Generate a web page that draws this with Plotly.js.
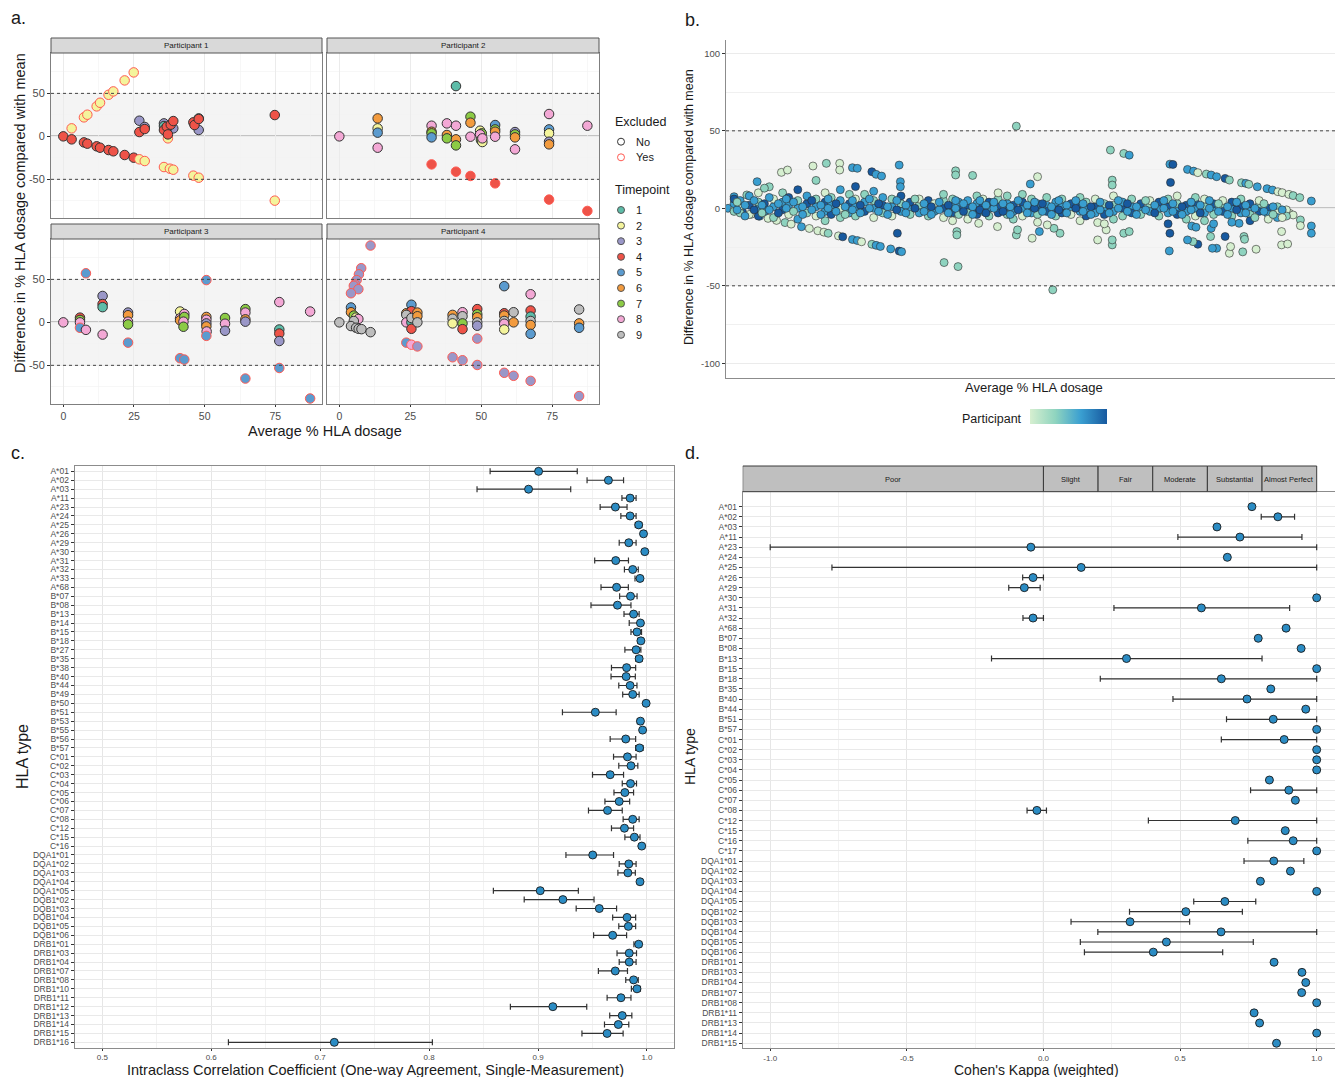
<!DOCTYPE html>
<html><head><meta charset="utf-8">
<script src="https://cdn.plot.ly/plotly-3.0.1.min.js"></script>
<style>html,body{margin:0;padding:0;background:#fff}#chart{width:1335px;height:1077px}</style>
</head><body><div id="chart"></div>
<script>
const FONT = 'Liberation Sans, Arial, Helvetica, sans-serif';
const W = 1335, H = 1077;
const px = v => v / W;
const py = v => 1 - v / H;

// ---------- Panel a: [average %, difference, timepoint, excluded(0/1)] ----------
const timepointLabels = ['1','2','3','4','5','6','7','8','9'];
const timepointColors = ['#5DBCA8','#F4F49C','#9A97C8','#EE5348','#5B9BCF','#F39B3E','#8CCB45','#F3A8D5','#BDBDBD'];
const excludedLabels = ['No','Yes'];
const excludedColors = ['#333333','#FF5A52'];
const facetLabels = ['Participant 1','Participant 2','Participant 3','Participant 4'];

const participant1 = [
  [26.9,18.2,3,0],[28.8,10.9,3,0],[35.6,15.1,3,0],[38.9,9.3,3,0],[47.9,7.4,3,0],[36.6,9,3,0],
  [47.9,20.9,1,0],[35.6,12,1,0],
  [0,0,4,0],[2.95,-3.5,4,0],[7.3,-7.0,4,0],[8.5,-8.5,4,0],[11.8,-11.6,4,0],[13.0,-13.2,4,0],
  [16.0,-15.9,4,0],[17.7,-17.4,4,0],[21.7,-21.7,4,0],[24.9,-24.8,4,0],[26.9,5.0,4,0],[28.8,8.5,4,0],
  [35.6,7.4,4,0],[36.6,11.2,4,0],[38.0,13.6,4,0],[38.9,17.8,4,0],[46.0,16.3,4,0],
  [46.4,13.2,4,0],[47.9,20.2,4,0],[74.8,24.8,4,0],
  [2.95,9.3,2,1],[7.3,22.1,2,1],[8.5,25.2,2,1],[11.8,34.9,2,1],[13.0,39.1,2,1],[16.0,48.4,2,1],
  [17.7,52.3,2,1],[21.7,65.1,2,1],[24.9,74.4,2,1],[26.9,-26.7,2,1],[28.8,-28.7,2,1],[35.6,-35.7,2,1],
  [37.7,-37.6,2,1],[38.9,-38.8,2,1],[46.0,-45.7,2,1],[47.9,-48.1,2,1],[74.8,-74.8,2,1],[37.0,-2.3,2,1],
  [37.0,2.3,4,0]
];
const participant2 = [
  [0,0,8,0],
  [13.5,20.9,6,0],[13.5,9.3,2,0],[13.5,4.3,5,0],[13.5,-13.2,8,0],
  [32.5,12.4,8,0],[32.5,5.4,6,0],[32.5,3.5,7,0],[32.5,-1.2,5,0],[32.5,-32.6,4,1],
  [37.9,15.1,8,0],[37.9,1.6,6,0],[37.9,-2.3,7,0],
  [41.1,12.4,8,0],[41.1,-3.5,6,0],[41.1,-10.5,7,0],[41.1,58.5,1,0],[41.1,-41.1,4,1],
  [46.2,22.9,7,0],[46.2,15.9,6,0],[46.2,-0.4,8,0],[46.2,-46.1,4,1],
  [49.6,6.6,2,0],[50.2,3.5,7,0],[49.6,2.3,8,0],[49.9,-4.3,7,0],[50.4,-6.6,2,0],[50.4,-2.3,8,0],
  [54.9,13.2,5,0],[54.9,8.1,7,0],[54.9,5.4,6,0],[54.9,-0.4,8,0],[54.9,-54.7,4,1],
  [61.9,5.0,3,0],[61.9,2.3,7,0],[61.9,-1.2,6,0],[61.9,-15.1,8,0],
  [73.9,26.0,8,0],[73.9,8.1,5,0],[73.9,3.5,2,0],[73.9,-6.2,3,0],[73.9,-9.3,6,0],[73.9,-73.6,4,1],
  [87.4,12.4,8,0],[87.4,-86.8,4,1]
];
const participant3 = [
  [0,0,8,0],
  [5.9,5.5,4,0],[5.9,2.8,7,0],[5.9,0,8,0],[5.9,-6.3,5,1],
  [8.0,57.1,5,1],[8.0,-8.7,8,0],
  [13.9,30.7,3,0],[13.9,21.3,4,0],[13.9,17.7,1,0],[13.9,-14.2,8,0],
  [22.9,11.4,3,0],[22.9,8.3,6,0],[22.9,0.8,8,0],[22.9,-2.4,7,0],[22.9,-23.6,5,1],
  [41.3,12.6,2,0],[41.3,4.7,8,0],[41.3,2.4,6,0],[42.8,9.8,8,0],[42.8,6.3,7,0],[42.5,0.8,8,0],[42.5,-5.1,7,0],
  [41.3,-41.7,5,1],[42.8,-43.3,5,1],
  [50.6,6.3,6,0],[50.6,3.1,8,0],[50.6,-1.2,3,0],[50.6,-4.7,6,0],[50.7,-10.6,8,0],[50.6,49.2,5,1],[50.6,-15.7,5,1],
  [57.2,5.1,7,0],[57.2,-1.6,8,0],[57.2,-9.8,3,0],
  [64.4,15.4,7,0],[64.4,11.4,8,0],[64.4,3.5,6,0],[64.4,0.8,3,0],[64.4,-65.4,5,1],
  [76.4,23.6,8,0],[76.4,-8.3,1,0],[76.4,-13.0,4,0],[76.4,-21.7,3,0],[76.4,-53.1,5,1],
  [87.3,12.6,8,0],[87.3,-88.6,5,1]
];
const participant4 = [
  [0,0,9,0],
  [11.0,89.4,3,1],[7.7,63.0,3,1],[6.9,55.9,3,1],[6.1,49.2,3,1],[5.5,44.1,3,1],[5.1,42.5,3,1],[6.7,38.6,3,1],[4.1,33.9,3,1],
  [4.1,17.3,5,0],[4.1,11.8,6,0],[5.1,7.9,7,0],[5.9,5.5,2,0],[6.7,3.9,8,0],[5.1,1.6,9,0],[4.1,-4.3,9,0],
  [5.9,-6.3,9,0],[6.8,-7.5,9,0],[7.8,-7.9,9,0],[11.0,-11.4,9,0],
  [25.4,20.5,5,0],[23.6,10.6,6,0],[25.4,13,4,0],[23.6,8.7,9,0],[23.6,0,8,0],[25.4,0,1,0],[25.4,5.1,9,0],
  [25.4,-7.5,4,0],[27.5,11.4,6,0],[27.5,7.1,6,0],[27.5,0,9,0],
  [23.6,-23.6,5,1],[25.4,-26.0,8,1],[27.5,-28.0,3,1],
  [39.9,8.7,6,0],[39.9,4.3,9,0],[39.9,-1.2,2,0],[43.4,11.8,8,0],[43.4,7.1,9,0],[43.4,-1.2,7,0],[43.4,-7.9,4,0],
  [48.6,15.4,4,0],[48.6,9.4,7,0],[48.6,5.9,6,0],[48.6,0,9,0],[48.6,-3.9,3,0],
  [39.9,-40.6,3,1],[43.4,-44.1,3,1],[48.6,-49.6,3,1],[48.6,-18.9,3,1],
  [58.1,42.1,5,0],[58.1,10.6,4,0],[58.1,7.9,6,0],[58.1,1.6,9,0],[58.1,-1.6,8,0],[58.1,-8.3,2,0],
  [61.4,11.8,9,0],[61.4,0,6,0],
  [67.4,32.7,8,0],[67.4,13.8,4,0],[67.4,6.7,1,0],[67.4,1.6,9,0],[67.4,-3.1,6,0],[67.4,-13.4,5,0],
  [58.1,-58.7,3,1],[61.4,-62.2,3,1],[67.4,-68.1,3,1],[84.5,-85.8,3,1],
  [84.5,15.0,9,0],[84.5,-1.2,6,0],[84.5,-6.3,5,0]
];

// ---------- Panel b: [average %, difference, participant] ----------
const bPoints = [
  [0,0,3],[1.0,-1.1,1],[2.4,-2.5,4],[3.8,-3.9,1],[5.2,-5.1,3],[6.6,-6.5,1],[8.0,-7.8,1],[9.4,-9.2,2],[10.4,-10.2,1],
  [12.1,-11.9,3],[13.4,-13.0,1],[14.8,-14.5,1],[15.8,-15.4,1],[16.5,-16.1,2],[18.2,-17.8,1],[18.9,-18.4,4],
  [20.5,-20.1,3],[21.3,-20.8,3],[22.0,-21.6,1],[23.7,-23.2,2],[24.4,-23.9,3],[25.1,-24.6,3],[26.8,-26.2,3],[28.2,-27.6,4],[28.6,-28.0,3],
  [72.8,28.5,3],[73.3,28.3,4],[75.7,25.1,3],[76.7,24.0,3],[77.4,23.0,1],[78.8,22.1,2],[79.6,21.5,3],[80.5,20.4,3],
  [81.9,19.3,4],[82.6,18.2,2],[84.6,16.5,2],[85.3,16.1,3],[85.8,15.5,2],[87.2,13.9,3],[88.8,12.7,3],[89.7,11.8,3],
  [90.6,10.7,1],[91.3,10.1,1],[92.4,9.0,1],[93.1,8.2,2],[94.2,6.9,2],[96.1,4.7,3],
  [47.5,53.0,2],[53.5,-52.6,2],[63.0,37.6,2],[65.2,35.4,2],[66.1,34.3,3],[35.6,-35.0,2],[37.9,-37.6,2],
  [8.8,23.2,1],[9.8,24.7,1],[14.0,27.3,1],[16.2,29.0,2],[18.4,29.0,1],[18.4,24.7,1],[20.5,26.2,3],[21.3,25.8,3],
  [23.7,23.6,4],[24.4,21.9,3],[25.3,20.8,3],[28.2,27.9,3],[28.4,17.2,3],[28.4,13.9,3],[27.9,-16.1,4],
  [37.5,24.2,2],[37.5,21.5,2],[40.3,21.2,2],[51.0,20.4,1],[49.8,15.7,3],[63.3,18.2,2],[63.3,15.0,2],
  [72.9,16.7,4],[72.8,-16.1,4],[72.7,-27.5,3],
  [96.1,-11.4,3],[96.1,-16.1,3],[94.3,-7.5,2],[94.3,-11.2,1],[92.5,-3.2,1],[93.1,-4.3,1],[91.2,-15.0,1],
  [91.2,-23.6,1],[92.2,-23.0,1],[87.0,-26.4,1],[82.6,-29.0,1],[82.8,-24.7,1],[84.8,-28.1,2],[80.5,-25.8,3],
  [79.8,-25.8,3],[77.4,-23.2,4],[76.6,-21.5,2],[75.7,-20.4,3],[81.9,-18.2,4],[84.2,-9.7,3],[85.0,-18.2,2],
  [85.1,-20.0,2],[79.5,-18.2,2],[79.6,-12.9,3],[76.4,-11.4,3],[77.1,-12.2,3],
  [60.9,-20.4,1],[63.3,-23.6,2],[63.3,-20.4,2],[65.2,-16.1,2],[66.1,-15.0,2],[62.3,-13.9,1],[60.9,-9.2,1],
  [54.7,-16.1,2],[53.7,-12.9,2],[52.6,-10.7,1],[50.1,-19.3,1],[51.3,-15.0,3],[47.5,-17.2,2],[47.7,-13.9,2],
  [44.4,-11.8,1],[41.3,-9.7,1],[37.7,-15.0,2],[37.7,-17.2,2],
  [1.0,7.5,3],[3.1,8.6,2],[4.8,17.2,3],[6.8,13.9,2],
  [1,3,3],[1,-2,2],[1,6,4],[2,1,1],[2,5,3],[2,-3,2],[3.5,8,3],[3.5,2,4],[3.5,-4,1],
  [5,0,3],[5,4,2],[5,-5,4],[5,10,1],[6,3,4],[6,-2,3],[6,13,2],[7.5,1,3],[7.5,6,1],[7.5,-6,2],
  [9,-1,4],[9,4,3],[9,10,2],[10,2,3],[10,7,4],[10,-4,1],[11.5,0,3],[11.5,5,2],[11.5,-7,3],[11.5,12,4],
  [13,3,4],[13,-3,2],[13,8,3],[14.5,1,3],[14.5,6,2],[14.5,-5,1],[14.5,18,2],
  [16,4,4],[16,-2,3],[16,10,1],[16,-8,2],[17,2,3],[17,7,2],[17,-4,4],
  [18.5,0,1],[18.5,5,3],[18.5,-6,2],[18.5,12,3],[20,3,4],[20,-3,3],[20,9,2],
  [21,1,3],[21,6,1],[21,-5,2],[21,14,4],[22.5,4,3],[22.5,-2,4],[22.5,9,2],
  [24,0,3],[24,5,2],[24,-6,1],[24,11,3],[25.5,2,4],[25.5,-3,2],[25.5,7,3],
  [27,1,3],[27,-5,1],[27,6,2],[28.5,3,2],[28.5,-2,3],[28.5,8,4],[30,0,3],[30,4,4],[30,-4,2],
  [31.5,2,2],[31.5,-3,3],[31.5,6,1],[33,1,3],[33,-5,2],[33,5,4],[34,3,1],[34,-2,3],
  [35.5,0,4],[35.5,5,2],[35.5,-6,1],[35.5,9,2],[37,2,3],[37,-3,4],[37,6,2],[37,-8,1],
  [38,0,4],[38,4,3],[38,-4,2],[39.5,1,4],[39.5,5,3],[39.5,-3,2],[39.5,-7,1],
  [41,0,4],[41,3,3],[41,-4,4],[41,8,2],[42,2,4],[42,-2,3],[42,6,1],[43,0,3],[43,4,4],[43,-5,2],
  [44.5,1,4],[44.5,-3,4],[44.5,6,2],[44.5,10,1],[46,0,4],[46,3,3],[46,-4,2],[46,8,2],
  [47,2,4],[47,-2,3],[47,-7,2],[48.5,0,3],[48.5,4,4],[48.5,-5,1],[48.5,9,2],
  [50,1,4],[50,-3,3],[50,6,2],[51,0,4],[51,3,3],[51,-4,2],[51,-9,1],[52.5,2,3],[52.5,-2,4],[52.5,7,2],
  [54,0,4],[54,4,3],[54,-5,2],[55,1,3],[55,-3,4],[55,6,2],[56.5,0,3],[56.5,3,4],[56.5,-4,1],
  [58,2,4],[58,-2,3],[58,7,2],[58,-8,1],[59,0,3],[59,4,2],[59,-5,4],[60.5,1,4],[60.5,-3,3],[60.5,6,1],
  [62,0,3],[62,3,2],[62,-4,4],[62,-10,1],[63.5,2,2],[63.5,-2,3],[63.5,8,1],[63.5,-7,2],
  [65,0,4],[65,4,3],[65,-5,2],[66.5,1,3],[66.5,-3,4],[66.5,6,2],[68,0,3],[68,3,4],[68,-4,2],
  [69.5,2,2],[69.5,-2,3],[69.5,5,1],[71,0,3],[71,4,4],[71,-5,2],[72.5,1,4],[72.5,-3,3],[72.5,6,2],[72.5,-10,4],
  [74,0,3],[74,3,2],[74,-4,4],[74,8,1],[75.5,2,4],[75.5,-2,3],[75.5,-7,2],[77,0,3],[77,4,4],[77,-5,1],[77,7,2],
  [78.5,1,2],[78.5,-3,3],[78.5,6,1],[78.5,-8,2],[80,0,3],[80,3,4],[80,-4,2],[80,-10,3],
  [81.5,2,2],[81.5,-2,4],[81.5,5,1],[83,0,3],[83,4,4],[83,-5,2],[83,-9,3],[84.5,1,4],[84.5,-3,3],[84.5,6,2],
  [86,0,3],[86,3,4],[86,-4,2],[86,-8,4],[87.5,2,2],[87.5,-2,4],[87.5,5,1],[89,0,4],[89,-4,3],[89,-7,1],
  [90.5,1,2],[90.5,-3,1],[90.5,-6,3],[92,-1,1],[92,-5,2],
  [1.5,-1,3],[1.5,4,2],[2.8,2,3],[2.8,-5,3],[4.3,-1,4],[4.3,5,3],[5.6,2,3],[5.6,-3,2],[6.8,-1,3],[6.8,7,3],
  [8.3,3,3],[8.3,-3,4],[9.6,0,3],[9.6,6,3],[10.8,-2,2],[10.8,4,3],[12.3,1,3],[12.3,-4,3],[13.8,-1,3],[13.8,5,4],
  [15.3,2,3],[15.3,-4,3],[16.5,0,3],[16.5,6,3],[17.8,-2,3],[17.8,3,4],[19.3,1,3],[19.3,-4,2],[20.5,-1,3],[20.5,5,3],
  [21.8,2,4],[21.8,-3,3],[23.3,0,3],[23.3,6,3],[24.8,-2,3],[24.8,3,4],[26.3,1,3],[26.3,-4,3],[27.8,-1,4],[27.8,5,3],
  [29.3,2,3],[29.3,-3,3],[30.8,0,4],[30.8,6,2],[32.3,-2,3],[32.3,3,3],[33.5,1,4],[33.5,-4,3],[34.8,-1,3],[34.8,4,3],
  [36.3,2,4],[36.3,-3,3],[37.5,0,3],[37.5,5,3],[38.8,-2,4],[38.8,3,3],[40.3,1,3],[40.3,-4,3],[41.5,-1,4],[41.5,5,3],
  [42.5,2,3],[42.5,-3,4],[43.8,0,3],[43.8,4,3],[45.3,-2,4],[45.3,3,3],[46.5,1,3],[46.5,-4,3],[47.8,-1,4],[47.8,5,3],
  [49.3,2,3],[49.3,-3,3],[50.5,0,4],[50.5,4,3],[51.8,-2,3],[51.8,3,4],[53.3,1,3],[53.3,-4,3],[54.5,-1,4],[54.5,5,3],
  [55.8,2,3],[55.8,-3,3],[57.3,0,4],[57.3,5,3],[58.5,-2,3],[58.5,3,3],[59.8,1,4],[59.8,-4,3],[61.3,-1,3],[61.3,4,3],
  [62.8,2,4],[62.8,-3,3],[64.3,0,3],[64.3,5,3],[65.8,-2,3],[65.8,3,4],[67.3,1,3],[67.3,-4,3],[68.8,-1,3],[68.8,5,2],
  [70.3,2,3],[70.3,-3,4],[71.8,0,3],[71.8,5,3],[73.3,-2,3],[73.3,3,3],[74.8,1,4],[74.8,-4,3],[76.3,-1,3],[76.3,4,3],
  [77.8,2,3],[77.8,-3,4],[79.3,0,3],[79.3,5,3],[80.8,-2,3],[80.8,3,2],[82.3,1,3],[82.3,-4,3],[83.8,-1,4],[83.8,4,3],
  [85.3,2,3],[85.3,-3,3],[86.8,0,3],[86.8,-6,2],[88.3,-2,3],[88.3,3,2],[89.8,1,3],[89.8,-4,2],[91.3,-1,3],[91.3,-6,1]
];
const participantScale = [[0,'#d6efd0'],[0.33,'#8fd4bf'],[0.66,'#3a9fd1'],[1,'#17599f']];

// ---------- Panel c: ICC ----------
const cTypes = ['A*01','A*02','A*03','A*11','A*23','A*24','A*25','A*26','A*29','A*30','A*31','A*32','A*33','A*68',
  'B*07','B*08','B*13','B*14','B*15','B*18','B*27','B*35','B*38','B*40','B*44','B*49','B*50','B*51','B*53','B*55','B*56','B*57',
  'C*01','C*02','C*03','C*04','C*05','C*06','C*07','C*08','C*12','C*15','C*16',
  'DQA1*01','DQA1*02','DQA1*03','DQA1*04','DQA1*05','DQB1*02','DQB1*03','DQB1*04','DQB1*05','DQB1*06',
  'DRB1*01','DRB1*03','DRB1*04','DRB1*07','DRB1*08','DRB1*10','DRB1*11','DRB1*12','DRB1*13','DRB1*14','DRB1*15','DRB1*16'];
const cICC = [0.9005,0.9646,0.8913,0.9845,0.971,0.9845,0.9924,0.9968,0.9833,0.998,0.9713,0.9869,0.9936,0.9721,
  0.9849,0.9729,0.9877,0.994,0.9908,0.9944,0.99,0.9928,0.9813,0.9809,0.9845,0.9869,0.9992,0.9526,0.994,0.996,0.9805,0.9932,
  0.9821,0.9853,0.9662,0.9849,0.9797,0.9745,0.9638,0.9869,0.9793,0.9884,0.9952,
  0.9502,0.9833,0.9825,0.9936,0.902,0.9228,0.9562,0.9817,0.9829,0.9685,
  0.9924,0.9837,0.9837,0.9709,0.9877,0.9908,0.9761,0.9136,0.9773,0.9737,0.9634,0.713];
const cLow = [0.856,0.945,0.844,0.977,0.957,0.976,0.9893,0.995,0.9745,0.9966,0.952,0.9793,0.989,0.9578,
  0.9749,0.9486,0.9789,0.9837,0.9853,0.9916,0.9797,0.9896,0.9674,0.967,0.9741,0.9777,0.9982,0.9224,0.9912,0.9948,0.9662,0.9896,
  0.9693,0.9741,0.950,0.9773,0.9697,0.9614,0.9463,0.9781,0.9674,0.9797,0.9928,
  0.9256,0.9745,0.9733,0.9912,0.859,0.8873,0.935,0.9685,0.9741,0.951,
  0.988,0.9725,0.9745,0.9554,0.9805,0.9857,0.9634,0.8746,0.9658,0.961,0.9403,0.6158];
const cHigh = [0.936,0.9785,0.930,0.990,0.9817,0.990,0.9952,0.999,0.990,0.9992,0.983,0.992,0.996,0.9829,
  0.9909,0.9853,0.9928,0.9964,0.995,0.9968,0.9944,0.9956,0.9896,0.9893,0.9908,0.9928,0.9998,0.9717,0.9962,0.997,0.9896,0.9964,
  0.99,0.9916,0.9785,0.9904,0.9877,0.9841,0.9773,0.9928,0.9877,0.9936,0.9976,
  0.9693,0.99,0.9893,0.996,0.937,0.9514,0.9721,0.9896,0.9896,0.9813,
  0.995,0.9904,0.99,0.9821,0.992,0.994,0.9853,0.9447,0.9861,0.9833,0.9781,0.803];

// ---------- Panel d: Cohen's kappa ----------
const dTypes = ['A*01','A*02','A*03','A*11','A*23','A*24','A*25','A*26','A*29','A*30','A*31','A*32','A*68',
  'B*07','B*08','B*13','B*15','B*18','B*35','B*40','B*44','B*51','B*57',
  'C*01','C*02','C*03','C*04','C*05','C*06','C*07','C*08','C*12','C*15','C*16','C*17',
  'DQA1*01','DQA1*02','DQA1*03','DQA1*04','DQA1*05','DQB1*02','DQB1*03','DQB1*04','DQB1*05','DQB1*06',
  'DRB1*01','DRB1*03','DRB1*04','DRB1*07','DRB1*08','DRB1*11','DRB1*13','DRB1*14','DRB1*15'];
const dKappa = [0.763,0.858,0.635,0.719,-0.046,0.673,0.138,-0.038,-0.070,1.0,0.578,-0.038,0.888,
  0.786,0.943,0.304,1.0,0.651,0.832,0.745,0.960,0.841,1.0,
  0.881,1.0,1.0,1.0,0.827,0.898,0.922,-0.024,0.702,0.885,0.914,1.0,
  0.843,0.904,0.794,1.0,0.664,0.521,0.317,0.650,0.450,0.402,
  0.844,0.946,0.960,0.945,1.0,0.771,0.791,1.0,0.853];
const dLow = [null,0.797,null,0.492,-1.0,null,-0.774,-0.076,-0.127,null,0.258,-0.075,null,
  null,null,-0.19,null,0.208,null,0.474,null,0.670,null,
  0.651,null,null,null,null,0.758,null,-0.060,0.384,null,0.748,null,
  0.734,null,null,null,0.550,0.315,0.101,0.199,0.135,0.150,
  null,null,null,null,null,null,null,null,null];
const dHigh = [null,0.919,null,0.946,1.0,null,1.0,0.0,-0.012,null,0.901,0.0,null,
  null,null,0.80,null,1.0,null,1.0,null,1.0,null,
  1.0,null,null,null,null,1.0,null,0.011,1.0,null,1.0,null,
  0.953,null,null,null,0.777,0.728,0.535,1.0,0.768,0.656,
  null,null,null,null,null,null,null,null,null];
const kappaBands = ['Poor','Slight','Fair','Moderate','Substantial','Almost Perfect'];
const kappaBreaks = [-1.1006,0,0.2,0.4,0.6,0.8,1.0];

// ---------- build ----------
const traces = [];
const panelsA = [participant1, participant2, participant3, participant4];
panelsA.forEach((pts, i) => {
  const n = i === 0 ? '' : String(i + 1);
  traces.push({
    type: 'scatter', mode: 'markers', xaxis: 'x' + n, yaxis: 'y' + n,
    x: pts.map(p => p[0]), y: pts.map(p => p[1]),
    marker: {size: 9.5, color: pts.map(p => timepointColors[p[2] - 1]),
      line: {width: 1, color: pts.map(p => excludedColors[p[3]])}},
    showlegend: false, hoverinfo: 'skip'
  });
});

traces.push({
  type: 'scatter', mode: 'markers', xaxis: 'x5', yaxis: 'y5',
  x: bPoints.map(p => p[0]), y: bPoints.map(p => p[1]),
  marker: {size: 8, color: bPoints.map(p => p[2]), cmin: 1, cmax: 4, colorscale: participantScale,
    line: {width: 0.6, color: '#2a2a2a'}, showscale: true,
    colorbar: {orientation: 'h', x: px(1068), xanchor: 'center', y: py(424), yanchor: 'bottom',
      len: 77, lenmode: 'pixels', thickness: 15, thicknessmode: 'pixels', outlinewidth: 0,
      showticklabels: false, ticks: '', xpad: 0, ypad: 0}},
  showlegend: false, hoverinfo: 'skip'
});

traces.push({
  type: 'scatter', mode: 'markers', xaxis: 'x6', yaxis: 'y6', x: cICC, y: cTypes,
  marker: {size: 8, color: '#2B8CC4', line: {width: 0.9, color: '#1a1a1a'}},
  error_x: {type: 'data', symmetric: false, array: cHigh.map((h, i) => h - cICC[i]),
    arrayminus: cLow.map((l, i) => cICC[i] - l), color: '#333', thickness: 1.2, width: 3},
  showlegend: false, hoverinfo: 'skip'
});

traces.push({
  type: 'scatter', mode: 'markers', xaxis: 'x7', yaxis: 'y7', x: dKappa, y: dTypes,
  marker: {size: 8, color: '#2B8CC4', line: {width: 0.9, color: '#1a1a1a'}},
  error_x: {type: 'data', symmetric: false,
    array: dHigh.map((h, i) => h === null ? NaN : h - dKappa[i]),
    arrayminus: dLow.map((l, i) => l === null ? NaN : dKappa[i] - l), color: '#333', thickness: 1.2, width: 3},
  showlegend: false, hoverinfo: 'skip'
});

const tickFont = (s) => ({family: FONT, size: s, color: '#4d4d4d'});
const domA = {
  x1: [px(51), px(322)], x2: [px(327), px(599)],
  y1: [py(218), py(53)], y2: [py(404), py(239)]
};
function aX(domain, anchor, labels) {
  return {domain, anchor, range: [-4.35, 91.5], tickvals: [0, 25, 50, 75], ticktext: ['0','25','50','75'],
    showticklabels: labels, ticks: labels ? 'outside' : '', ticklen: 2, tickcolor: '#333', tickfont: tickFont(10.5),
    showgrid: true, gridcolor: '#ebebeb', gridwidth: 1,
    minor: {tickvals: [12.5, 37.5, 62.5, 87.5], showgrid: true, gridcolor: '#f2f2f2', gridwidth: 0.6},
    showline: true, mirror: true, linecolor: '#7f7f7f', linewidth: 1, zeroline: false};
}
function aY(domain, anchor, labels) {
  return {domain, anchor, range: [-95, 97], tickvals: [-50, 0, 50], ticktext: ['-50','0','50'],
    showticklabels: labels, ticks: labels ? 'outside' : '', ticklen: 3, tickcolor: '#333', tickfont: tickFont(11),
    showgrid: true, gridcolor: '#ebebeb', gridwidth: 1,
    minor: {tickvals: [-75, -25, 25, 75], showgrid: true, gridcolor: '#f2f2f2', gridwidth: 0.6},
    showline: true, mirror: true, linecolor: '#7f7f7f', linewidth: 1, zeroline: false};
}

const layout = {
  width: W, height: H, autosize: false, margin: {l: 0, r: 0, t: 0, b: 0},
  paper_bgcolor: '#fff', plot_bgcolor: '#fff', font: {family: FONT, color: '#1a1a1a'}, showlegend: false,
  xaxis: aX(domA.x1, 'y', false), yaxis: aY(domA.y1, 'x', true),
  xaxis2: aX(domA.x2, 'y2', false), yaxis2: aY(domA.y1, 'x2', false),
  xaxis3: aX(domA.x1, 'y3', true), yaxis3: aY(domA.y2, 'x3', true),
  xaxis4: aX(domA.x2, 'y4', true), yaxis4: aY(domA.y2, 'x4', false),
  xaxis5: {domain: [px(726), 1], anchor: 'y5', range: [-0.33, 100], showticklabels: false, ticks: '',
    showgrid: false, zeroline: false, showline: true, linecolor: '#8c8c8c', linewidth: 1},
  yaxis5: {domain: [py(377.7), py(40)], anchor: 'x5', range: [-109.3, 108.6], tickvals: [-100, -50, 0, 50, 100],
    ticktext: ['-100','-50','0','50','100'], ticks: 'outside', ticklen: 3, tickcolor: '#333', tickfont: tickFont(9.5),
    showgrid: true, gridcolor: '#ebebeb', minor: {tickvals: [-75, -25, 25, 75], showgrid: true, gridcolor: '#f0f0f0'},
    zeroline: false, showline: true, linecolor: '#8c8c8c', linewidth: 1},
  xaxis6: {domain: [px(74.6), px(674)], anchor: 'y6', range: [0.4746, 1.0248], tickvals: [0.5, 0.6, 0.7, 0.8, 0.9, 1.0],
    ticktext: ['0.5','0.6','0.7','0.8','0.9','1.0'], ticks: 'outside', ticklen: 2, tickcolor: '#333', tickfont: tickFont(8),
    showgrid: true, gridcolor: '#e6e6e6', minor: {tickvals: [0.55, 0.65, 0.75, 0.85, 0.95], showgrid: true, gridcolor: '#f2f2f2'},
    zeroline: false, showline: true, mirror: true, linecolor: '#8c8c8c', linewidth: 1},
  yaxis6: {domain: [py(1047.7), py(466)], anchor: 'x6', type: 'category', categoryorder: 'array', categoryarray: cTypes,
    tickmode: 'array', tickvals: cTypes, ticktext: cTypes,
    range: [64.6, -0.6], ticks: 'outside', ticklen: 3, tickcolor: '#333', tickfont: tickFont(8.5),
    showgrid: true, gridcolor: '#e9e9e9', zeroline: false, showline: true, mirror: true, linecolor: '#8c8c8c', linewidth: 1},
  xaxis7: {domain: [px(742.7), 1], anchor: 'y7', range: [-1.1006, 1.067], tickvals: [-1, -0.5, 0, 0.5, 1],
    ticktext: ['-1.0','-0.5','0.0','0.5','1.0'], ticks: 'outside', ticklen: 2, tickcolor: '#333', tickfont: tickFont(8),
    showgrid: true, gridcolor: '#e6e6e6', minor: {tickvals: [-0.75, -0.25, 0.25, 0.75], showgrid: true, gridcolor: '#f2f2f2'},
    zeroline: false, showline: true, mirror: true, linecolor: '#8c8c8c', linewidth: 1},
  yaxis7: {domain: [py(1048.3), py(491.7)], anchor: 'x7', type: 'category', categoryorder: 'array', categoryarray: dTypes,
    tickmode: 'array', tickvals: dTypes, ticktext: dTypes,
    range: [53.5, -1.48], ticks: 'outside', ticklen: 3, tickcolor: '#333', tickfont: tickFont(8.5),
    showgrid: true, gridcolor: '#e9e9e9', zeroline: false, showline: true, mirror: true, linecolor: '#8c8c8c', linewidth: 1},
  shapes: [], annotations: []
};

// panel a reference bands / lines and facet strips
['', '2', '3', '4'].forEach((n) => {
  const xr = 'x' + n + ' domain', yr = 'y' + n;
  layout.shapes.push({type: 'rect', xref: xr, yref: yr, x0: 0, x1: 1, y0: -50, y1: 50, fillcolor: '#f4f4f4', line: {width: 0}, layer: 'below'});
  [-50, 50].forEach(v => layout.shapes.push({type: 'line', xref: xr, yref: yr, x0: 0, x1: 1, y0: v, y1: v, line: {color: '#444', width: 1, dash: 'dot'}}));
  layout.shapes.push({type: 'line', xref: xr, yref: yr, x0: 0, x1: 1, y0: 0, y1: 0, line: {color: '#333', width: 1.1}, layer: 'below'});
});
const strips = [[51, 322, 38, 53], [327, 599, 38, 53], [51, 322, 224, 239], [327, 599, 224, 239]];
strips.forEach((s, i) => {
  layout.shapes.push({type: 'rect', xref: 'paper', yref: 'paper', x0: px(s[0]), x1: px(s[1]), y0: py(s[3]), y1: py(s[2]),
    fillcolor: '#d9d9d9', line: {color: '#555', width: 1}});
  layout.annotations.push({xref: 'paper', yref: 'paper', x: px((s[0] + s[1]) / 2), y: py((s[2] + s[3]) / 2),
    text: facetLabels[i], showarrow: false, font: {size: 8, color: '#1a1a1a'}, xanchor: 'center', yanchor: 'middle'});
});

// panel b
layout.shapes.push({type: 'rect', xref: 'x5 domain', yref: 'y5', x0: 0, x1: 1, y0: -50, y1: 50, fillcolor: '#f4f4f4', line: {width: 0}, layer: 'below'});
[-50, 50].forEach(v => layout.shapes.push({type: 'line', xref: 'x5 domain', yref: 'y5', x0: 0, x1: 1, y0: v, y1: v, line: {color: '#444', width: 1, dash: 'dot'}}));
layout.shapes.push({type: 'line', xref: 'x5 domain', yref: 'y5', x0: 0, x1: 1, y0: 0, y1: 0, line: {color: '#333', width: 1.1}, layer: 'below'});

// panel d zero line and kappa strip
layout.shapes.push({type: 'line', xref: 'x7', yref: 'y7 domain', x0: 0, x1: 0, y0: 0, y1: 1, line: {color: '#a0a0a0', width: 1}, layer: 'below'});
kappaBands.forEach((lab, i) => {
  layout.shapes.push({type: 'rect', xref: 'x7', yref: 'paper', x0: kappaBreaks[i], x1: kappaBreaks[i + 1], y0: py(491.7), y1: py(466),
    fillcolor: '#bfbfbf', line: {color: '#3a3a3a', width: 1}});
  layout.annotations.push({xref: 'x7', yref: 'paper', x: (kappaBreaks[i] + kappaBreaks[i + 1]) / 2, y: py(479),
    text: lab, showarrow: false, font: {size: 7.5, color: '#1a1a1a'}, xanchor: 'center', yanchor: 'middle'});
});

// legend for panel a
function legendCircle(cx, cy, fill, stroke) {
  layout.shapes.push({type: 'circle', xref: 'paper', yref: 'paper', xsizemode: 'pixel', ysizemode: 'pixel',
    xanchor: px(cx), yanchor: py(cy), x0: -3.5, x1: 3.5, y0: -3.5, y1: 3.5, fillcolor: fill, line: {color: stroke, width: 1}});
}
function textAt(text, x, y, size, opts) {
  layout.annotations.push(Object.assign({xref: 'paper', yref: 'paper', x: px(x), y: py(y), text, showarrow: false,
    font: {size, color: '#1a1a1a'}, xanchor: 'left', yanchor: 'middle'}, opts || {}));
}
textAt('Excluded', 613, 122, 12.5);
excludedLabels.forEach((lab, i) => {
  legendCircle(621, 141.7 + i * 15.6, 'rgba(0,0,0,0)', excludedColors[i]);
  textAt(lab, 634, 141.7 + i * 15.6, 11);
});
textAt('Timepoint', 613, 190, 12.5);
timepointLabels.forEach((lab, i) => {
  legendCircle(621, 210 + i * 15.6, timepointColors[i], '#555');
  textAt(lab, 634, 210 + i * 15.6, 11);
});

// panel labels
textAt('a.', 9, 18, 18);
textAt('b.', 683, 20, 18);
textAt('c.', 9, 453, 18);
textAt('d.', 683, 453, 18);

// axis titles
textAt('Difference in % HLA dosage compared with mean', 20, 213, 14.5, {xanchor: 'center', textangle: -90});
textAt('Average % HLA dosage', 325, 431, 14.5, {xanchor: 'center'});
textAt('Difference in % HLA dosage compared with mean', 689, 207, 12.5, {xanchor: 'center', textangle: -90});
textAt('Average % HLA dosage', 1034, 387, 13, {xanchor: 'center'});
textAt('Participant', 1024, 419, 12.5, {xanchor: 'right'});
textAt('HLA type', 22, 757, 16, {xanchor: 'center', textangle: -90});
textAt('Intraclass Correlation Coefficient (One-way Agreement, Single-Measurement)', 375, 1070, 14.5, {xanchor: 'center'});
textAt('HLA type', 690, 757, 14, {xanchor: 'center', textangle: -90});
textAt("Cohen's Kappa (weighted)", 1036, 1070, 14, {xanchor: 'center'});

Plotly.newPlot('chart', traces, layout, {staticPlot: true, displayModeBar: false});
</script></body></html>
